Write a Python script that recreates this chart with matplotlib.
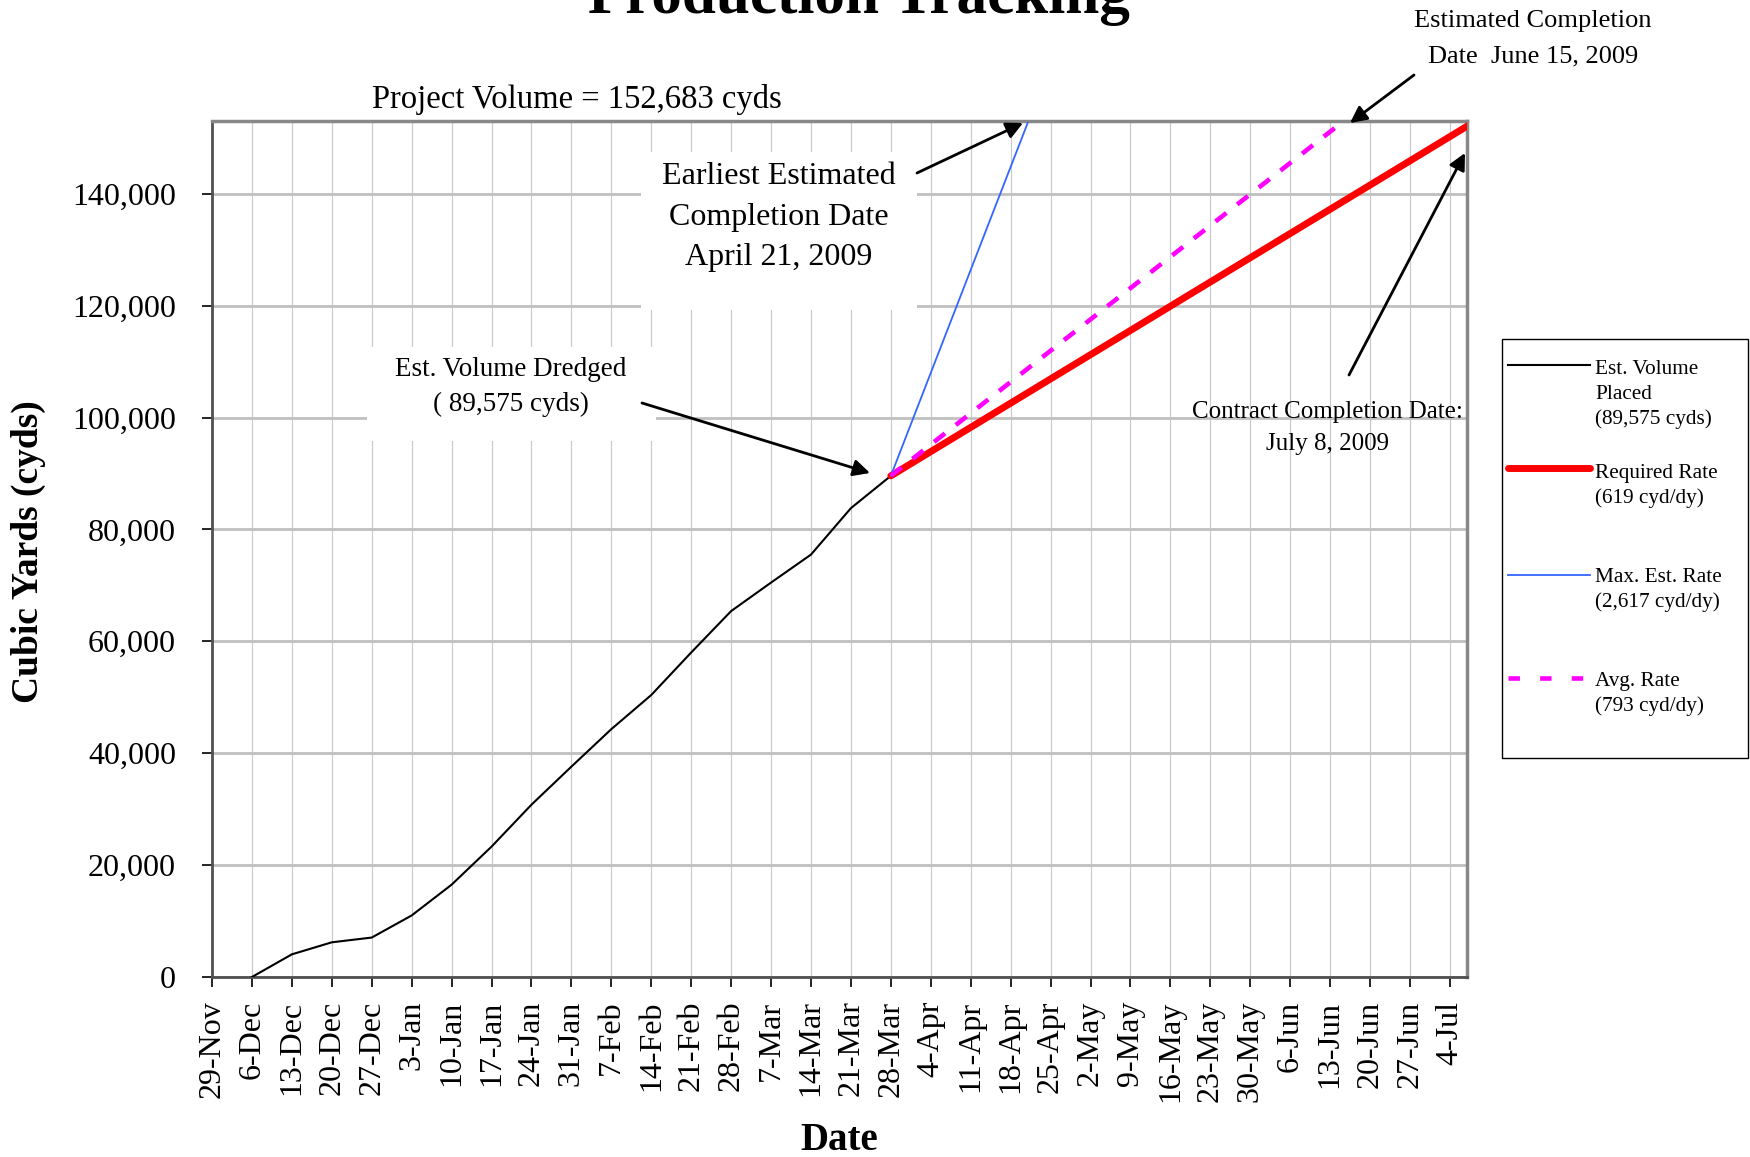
import matplotlib.pyplot as plt
from matplotlib.lines import Line2D
from matplotlib.patches import Rectangle
import pandas as pd

plt.rcParams['font.family'] = ['Liberation Serif', 'DejaVu Serif']

W, H = 1750, 1157

# weekly volume placed (cyds)
placed_dates = pd.date_range('2008-12-06', '2009-03-28', freq='7D')
placed_vals = [0, 4050, 6200, 7050, 11000, 16500, 23300, 30800, 37600,
               44300, 50400, 58000, 65400, 70500, 75500, 83800, 89575]

project_volume = 152683

# projections from the last survey
req_dates = pd.to_datetime(['2009-03-28', '2009-07-08'])
req_vals = [89575, 152683]
max_dates = pd.to_datetime(['2009-03-28', '2009-04-21'])
max_vals = [89575, 152683]
avg_dates = pd.to_datetime(['2009-03-28', '2009-06-15'])
avg_vals = [89575, 152683]

tick_dates = pd.date_range('2008-11-29', '2009-07-04', freq='7D')
tick_labels = [f"{d.day}-{d.strftime('%b')}" for d in tick_dates]
y_ticks = list(range(0, 140001, 20000))

legend_labels = [["Est. Volume", "Placed", "(89,575 cyds)"],
                 ["Required Rate", "(619 cyd/dy)"],
                 ["Max. Est. Rate", "(2,617 cyd/dy)"],
                 ["Avg. Rate", "(793 cyd/dy)"]]


def fp(x, y):
    # pixel position (from top-left) -> figure fraction
    return (x / W, 1 - y / H)


fig = plt.figure(figsize=(W / 100, H / 100), dpi=100)
ax = fig.add_axes([212 / W, 1 - 977 / H, 1255 / W, 856 / H])
ax.set_axisbelow(True)

ax.plot(placed_dates, placed_vals, color='black', lw=1.5, zorder=3)
ax.plot(req_dates, req_vals, color='#ff0000', lw=5, solid_capstyle='round', zorder=3)
ax.plot(max_dates, max_vals, color='#3366ff', lw=1.3, zorder=4)
ax.plot(avg_dates, avg_vals, color='#ff00ff', lw=3.3, dashes=(3, 3), zorder=5)

ax.set_xlim(pd.Timestamp('2008-11-29'), pd.Timestamp('2008-11-29') + pd.Timedelta(days=220))
ax.set_ylim(0, 153000)
ax.set_xticks(tick_dates)
ax.set_xticklabels(tick_labels, rotation=90, ha='center', va='top')
ax.set_yticks(y_ticks)
ax.set_yticklabels([f"{v:,}" for v in y_ticks])
ax.tick_params(axis='y', labelsize=23, length=7, width=1.2, pad=19)
ax.tick_params(axis='x', labelsize=23, length=7, width=1.2, pad=10)
ax.grid(axis='x', color='#c8c8c8', lw=0.8)
ax.grid(axis='y', color='#c0c0c0', lw=2)

for s in ['left', 'bottom']:
    ax.spines[s].set_color('#505050')
    ax.spines[s].set_linewidth(2)
for s in ['top', 'right']:
    ax.spines[s].set_color('#888888')
    ax.spines[s].set_linewidth(2.5)

# texts
fig.text(*fp(859, 13), 'Production Tracking', fontsize=44, fontweight='bold',
         ha='center', va='baseline')
fig.text(*fp(577, 108), 'Project Volume = 152,683 cyds', fontsize=23.5,
         ha='center', va='baseline')
fig.text(*fp(28, 552), 'Cubic Yards (cyds)', fontsize=27, fontweight='bold',
         rotation=90, ha='center', va='center')
fig.text(*fp(839, 1150), 'Date', fontsize=28, fontweight='bold',
         ha='center', va='baseline')

# white boxes behind callouts
for x0, y0, x1, y1 in [(641, 152, 917, 310), (367, 347, 656, 441)]:
    ax.add_patch(Rectangle(fp(x0, y1), (x1 - x0) / W, (y1 - y0) / H,
                           transform=fig.transFigure, facecolor='white',
                           edgecolor='none', zorder=1.5, clip_on=False))

for s, y in [('Earliest Estimated', 184), ('Completion Date', 225), ('April 21, 2009', 265)]:
    fig.text(*fp(779, y), s, fontsize=23, ha='center', va='baseline')
for s, y in [('Est. Volume Dredged', 376), ('( 89,575 cyds)', 411)]:
    fig.text(*fp(511, y), s, fontsize=19.5, ha='center', va='baseline')
for s, y in [('Contract Completion Date:', 418), ('July 8, 2009', 450)]:
    fig.text(*fp(1327, y), s, fontsize=18, ha='center', va='baseline')
for s, y in [('Estimated Completion', 27), ('Date  June 15, 2009', 62)]:
    fig.text(*fp(1533, y), s, fontsize=19, ha='center', va='baseline')

arrows = [((917, 173), (1023, 123)),
          ((642, 403), (870, 473)),
          ((1414, 75), (1350, 123)),
          ((1349, 375), (1465, 153))]
for tail, head in arrows:
    ax.annotate('', xy=fp(*head), xycoords='figure fraction',
                xytext=fp(*tail), textcoords='figure fraction',
                arrowprops=dict(arrowstyle='-|>', color='black', lw=2,
                                mutation_scale=25, shrinkA=0, shrinkB=0,
                                clip_on=False),
                annotation_clip=False)

# legend box
fig.add_artist(Rectangle(fp(1502, 758), 246 / W, 419 / H, transform=fig.transFigure,
                         fill=False, edgecolor='black', lw=1))
handle_styles = [dict(color='black', lw=1.5),
                 dict(color='#ff0000', lw=5, solid_capstyle='round'),
                 dict(color='#3366ff', lw=1.3),
                 dict(color='#ff00ff', lw=3.3, dashes=(2.5, 4.4))]
handle_y = [365, 468, 575, 678]
text_y = [374, 478, 582, 686]
for style, hy, ty, lines in zip(handle_styles, handle_y, text_y, legend_labels):
    fig.add_artist(Line2D([1508 / W, 1590 / W], [1 - hy / H] * 2,
                          transform=fig.transFigure, **style))
    for i, s in enumerate(lines):
        fig.text(*fp(1595, ty + 25 * i), s, fontsize=15.3, ha='left', va='baseline')

fig.savefig('out.png', dpi=100)
